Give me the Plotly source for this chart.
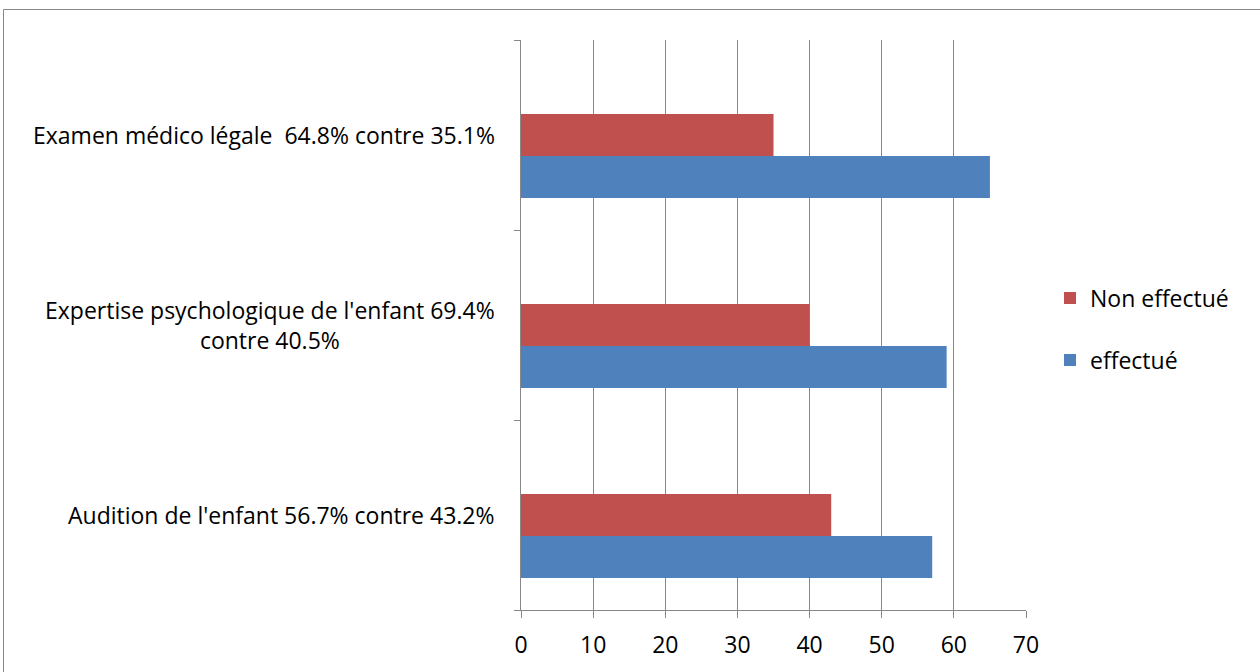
import plotly.graph_objects as go

# Categories (bottom to top) and values per series
categories = [
    "Audition de l'enfant 56.7% contre 43.2%",
    "Expertise psychologique de l'enfant 69.4%<br>contre 40.5%",
    "Examen médico légale \u00a064.8% contre 35.1%",
]
effectue = [57, 59, 65]
non_effectue = [43, 40, 35]
x_ticks = [0, 10, 20, 30, 40, 50, 60, 70]

BLUE = "#4F81BD"
RED = "#C0504D"
GRID = "#888888"
FONT = "Open Sans"
FS = 23

W, H = 1260, 672
L, R, T, B = 521, 234, 40, 62
pw, ph = W - L - R, H - T - B

# bar thickness and placement within each category band (band = 1 unit)
BAR_W = 0.221

fig = go.Figure()
fig.add_trace(go.Bar(y=categories, x=effectue, orientation="h", name="effectué",
                     width=BAR_W, offset=-BAR_W / 2 - BAR_W,
                     marker=dict(color=BLUE, line=dict(width=0)), legend="legend2"))
fig.add_trace(go.Bar(y=categories, x=non_effectue, orientation="h", name="Non effectué",
                     width=BAR_W, offset=-BAR_W / 2,
                     marker=dict(color=RED, line=dict(width=0)), legend="legend"))

# Category labels, centred multi-line text to the left of the axis
for c in categories:
    fig.add_annotation(x=0, y=c, xref="paper", yref="y", text=c, showarrow=False,
                       xanchor="right", align="center", xshift=-24,
                       font=dict(family=FONT, size=FS, color="#000000"))


def px_x(p):
    return (p - L) / pw


def px_y(p):
    return (H - B - p) / ph


# Outer chart frame
fig.add_shape(type="rect", xref="paper", yref="paper",
              x0=px_x(3.5), x1=px_x(1262), y0=px_y(690), y1=px_y(9.5),
              line=dict(color=GRID, width=1), fillcolor="rgba(0,0,0,0)", layer="below")

legend_style = dict(xanchor="left", yanchor="middle",
                    font=dict(family=FONT, size=FS, color="#000000"),
                    bgcolor="rgba(0,0,0,0)")

fig.update_layout(
    width=W, height=H,
    margin=dict(l=L, r=R, t=T, b=B, pad=0),
    paper_bgcolor="white", plot_bgcolor="white",
    barmode="overlay", showlegend=True,
    font=dict(family=FONT, size=FS, color="#000000"),
    xaxis=dict(range=[0, 70], tickvals=x_ticks, showgrid=True, gridcolor=GRID, gridwidth=1,
               zeroline=False, showline=True, linecolor=GRID, linewidth=1,
               ticks="outside", ticklen=7, tickcolor=GRID, tickwidth=1,
               ticklabelstandoff=7, tickfont=dict(family=FONT, size=FS, color="#000000")),
    yaxis=dict(showgrid=False, zeroline=False, showline=True, linecolor=GRID, linewidth=1,
               ticks="outside", tickson="boundaries", ticklen=6, tickcolor=GRID,
               showticklabels=False),
    legend=dict(x=px_x(1050), y=px_y(298), **legend_style),
    legend2=dict(x=px_x(1050), y=px_y(360), **legend_style),
)

fig.write_html("out.html")
